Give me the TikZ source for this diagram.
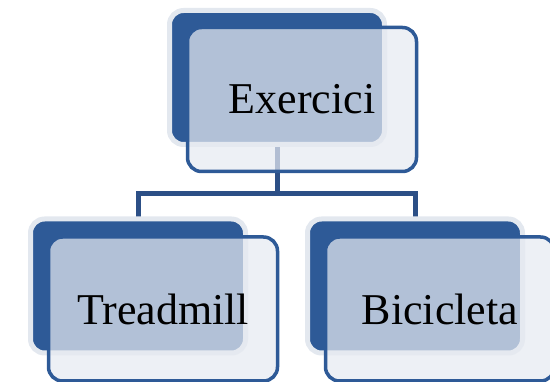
\documentclass[tikz,border=0pt]{standalone}
\usepackage{fontspec}
\setmainfont{Liberation Serif}
\usetikzlibrary{positioning, backgrounds}
\definecolor{boxblue}{HTML}{2E5A97}
\definecolor{linkblue}{HTML}{2C4F86}
\definecolor{halogray}{HTML}{E3E8EF}
\definecolor{cardfill}{HTML}{E6EAF1}

\begin{document}
\begin{tikzpicture}[
      x=1pt, y=-1pt,
      every node/.style={font=\fontsize{44}{52}\selectfont},
      backbox/.style={draw=halogray, line width=5pt, fill=boxblue, rounded corners=14pt,
        minimum width=215pt, minimum height=134pt, inner sep=0pt},
      card/.style={draw=boxblue, line width=3.5pt, fill=cardfill, fill opacity=0.72, text opacity=1,
        rounded corners=14pt, minimum width=229pt, minimum height=144pt, inner sep=0pt},
      link/.style={draw=linkblue, line width=5pt},
    ]
    \useasboundingbox (0,0) rectangle (550,382);

    % Top box
    \node[backbox] (exback) at (277, 77.5) {};
    \node[card] (ex) at (302, 99.5) {Exercici};

    % Bottom boxes
    \node[backbox] (trback) at (138, 286) {};
    \node[card] (tr) at (163, 309) {Treadmill};
    \node[backbox] (biback) at (415, 286) {};
    \node[card] (bi) at (440, 309) {Bicicleta};

    % Connectors
    \coordinate (bus) at (0, 194);
    \begin{scope}[on background layer]
      \draw[link] (exback.center) -- (exback.center |- bus) -| (trback.center);
      \draw[link] (exback.center |- bus) -| (biback.center);
    \end{scope}
  \end{tikzpicture}
\end{document}
